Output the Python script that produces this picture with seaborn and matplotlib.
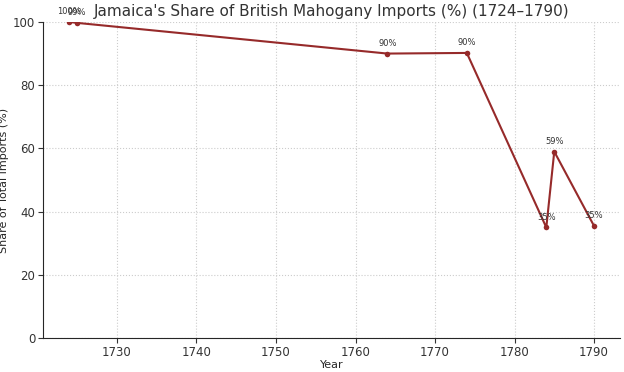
import pandas as pd
import matplotlib
matplotlib.use("Agg")
import matplotlib.pyplot as plt
import seaborn as sns

# Jamaica's share of British mahogany imports
years = [1724, 1725, 1764, 1774, 1784, 1785, 1790]
share = [100, 99.7, 90, 90.2, 35, 59, 35.5]
labels = ["100%", "99%", "90%", "90%", "35%", "59%", "35%"]

df = pd.DataFrame({"Year": years, "Share": share})

sns.set_style("ticks")
plt.rcParams["font.family"] = ["DejaVu Sans"]

fig, ax = plt.subplots(figsize=(6.24, 3.72), dpi=100)
sns.lineplot(data=df, x="Year", y="Share", color="#962a2a", marker="o",
             markersize=4, markeredgewidth=0, linewidth=1.5, ax=ax)

for x, y, t in zip(years, share, labels):
    ax.annotate(t, (x, y), xytext=(0, 4), textcoords="offset points",
                ha="center", va="bottom", fontsize=6, color="#333333")

ax.set_ylim(0, 100)
ax.set_xticks([1730, 1740, 1750, 1760, 1770, 1780, 1790])
ax.grid(True, linestyle=":", color="#cccccc", linewidth=0.8)
sns.despine(ax=ax)
ax.tick_params(labelsize=8.5, colors="#333333", pad=2)
ax.set_title("Jamaica's Share of British Mahogany Imports (%) (1724–1790)",
             fontsize=11, color="#333333", pad=4)
ax.set_xlabel("Year", fontsize=8, labelpad=1)
ax.set_ylabel("Share of Total Imports (%)", fontsize=8, labelpad=3)

fig.subplots_adjust(left=0.069, right=0.994, top=0.941, bottom=0.091)
fig.savefig("out.png", dpi=100)
